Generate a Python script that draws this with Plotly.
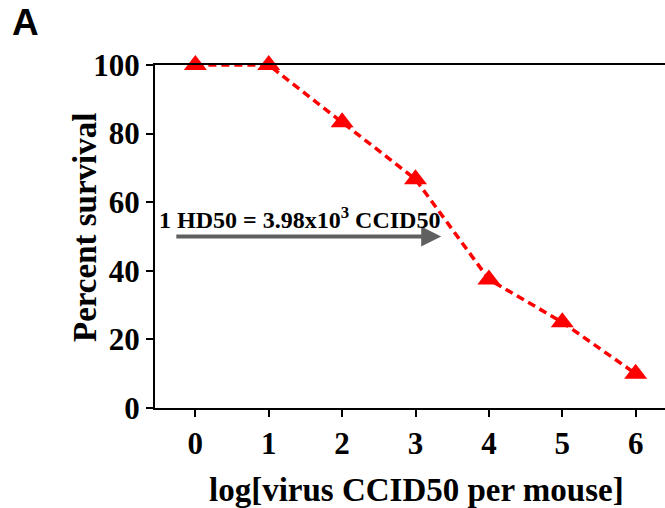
import plotly.graph_objects as go

log_dose = [0, 1, 2, 3, 4, 5, 6]
percent_survival = [100, 100, 83.3, 66.7, 37.5, 25, 10]
y_ticks = [0, 20, 40, 60, 80, 100]
annot_text = "1 HD50 = 3.98x10<sup>3</sup> CCID50"
x_title = "log[virus CCID50 per mouse]"
y_title = "Percent survival"

FONT = "Liberation Serif"
W, H = 665, 508
L, R, T, B = 155, 0, 65, 100
PW, PH = W - L - R, H - T - B

fig = go.Figure()
fig.add_trace(go.Scatter(
    x=log_dose, y=percent_survival, mode="lines+markers",
    line=dict(color="#ff0000", width=3.5, dash="8px,5px"),
    marker=dict(symbol="triangle-up", size=20, color="#ff0000"),
    cliponaxis=False, showlegend=False,
))

fig.update_layout(
    width=W, height=H,
    margin=dict(l=L, r=R, t=T, b=B, autoexpand=False),
    paper_bgcolor="white", plot_bgcolor="white",
    font=dict(family=FONT, color="black"),
    xaxis=dict(
        range=[-0.55, 6.4], tickvals=log_dose, ticktext=[str(v) for v in log_dose],
        automargin=False, mirror=True,
        showgrid=False, zeroline=False, showline=True, linecolor="black", linewidth=2,
        ticks="outside", ticklen=7, tickwidth=2, tickcolor="black",
        tickfont=dict(family=FONT, size=31, color="black", weight="bold"),
    ),
    yaxis=dict(
        range=[0, 100], tickvals=y_ticks, automargin=False,
        showgrid=False, zeroline=False, showline=True, linecolor="black", linewidth=2,
        ticks="outside", ticklen=7, tickwidth=2, tickcolor="black",
        tickfont=dict(family=FONT, size=31, color="black", weight="bold"),
    ),
)

def px_x(p):
    return (p - L) / PW

def px_y(p):
    return (H - B - p) / PH

fig.add_annotation(
    x=3.35, y=50, ax=-0.28, ay=50, xref="x", yref="y", axref="x", ayref="y",
    text="", showarrow=True, arrowhead=2, arrowsize=1, arrowwidth=4, arrowcolor="#606060",
)
fig.add_annotation(
    x=1.42, y=55.5, xref="x", yref="y", text="<b>" + annot_text + "</b>",
    showarrow=False, font=dict(family=FONT, size=24, color="black"),
)
fig.add_annotation(
    x=px_x(416), y=px_y(490), xref="paper", yref="paper",
    xanchor="center", yanchor="middle",
    text="<b>" + x_title + "</b>", showarrow=False,
    font=dict(family=FONT, size=33, color="black"),
)
fig.add_annotation(
    x=px_x(85), y=px_y(228), xref="paper", yref="paper", textangle=-90,
    xanchor="center", yanchor="middle",
    text="<b>" + y_title + "</b>", showarrow=False,
    font=dict(family=FONT, size=33, color="black"),
)
fig.add_annotation(
    x=px_x(10), y=px_y(0), xref="paper", yref="paper",
    xanchor="left", yanchor="top",
    text="<b>A</b>", showarrow=False, font=dict(family="Liberation Sans", size=37, color="black"),
)

fig.write_html("out.html", config={"displayModeBar": False},
               post_script="document.body.style.margin='0';")
